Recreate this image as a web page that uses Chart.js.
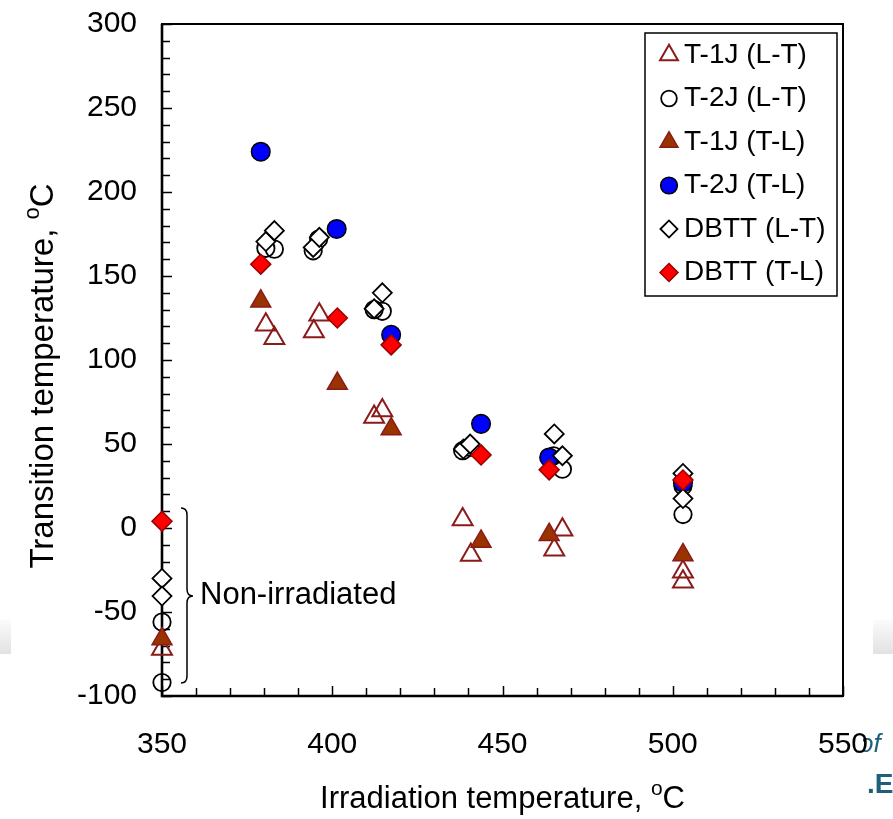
<!DOCTYPE html>
<html>
<head>
<meta charset="utf-8">
<script src="https://cdn.jsdelivr.net/npm/chart.js"></script>
<style>
  body { margin: 0; background: #fff; }
  #wrap { width: 893px; height: 819px; position: relative; }
</style>
</head>
<body>
<div id="wrap"><canvas id="myChart"></canvas></div>
<script>
// series
let labels = ['T-1J (L-T)', 'T-2J (L-T)', 'T-1J (T-L)', 'T-2J (T-L)', 'DBTT (L-T)', 'DBTT (T-L)'];

let t1jLT_x = [350, 380.5, 383, 394.6, 396.2, 412.3, 414.7, 438.3, 440.7, 465.2, 467.6, 503, 503];
let t1jLT_y = [-72, 121, 113, 117, 127, 66, 70, 5, -16, -13, -1, -26, -32];

let t2jLT_x = [350, 350, 380.5, 383, 394.4, 396, 412.3, 414.7, 438.3, 440.5, 465, 467.6, 503, 503];
let t2jLT_y = [-56, -92, 166.5, 166, 165, 172, 130, 129, 46, 48, 43, 35, 25, 8];

let t1jTL_x = [350, 379, 401.5, 417.3, 443.7, 463.7, 503];
let t1jTL_y = [-66, 135, 86, 59, -8, -4, -16];

let t2jTL_x = [379, 401.3, 417.3, 443.7, 463.7, 503];
let t2jTL_y = [224, 178, 115, 62, 42, 27];

let dbttLT_x = [350, 350, 380.5, 383, 394.4, 396.2, 412.3, 414.7, 438.5, 440.5, 465.2, 467.6, 503, 503];
let dbttLT_y = [-30, -40.5, 170.5, 177, 167, 173, 130.5, 140, 47, 50, 56, 43, 32.5, 17.5];

let dbttTL_x = [350, 379, 401.5, 417.3, 443.7, 463.7, 503];
let dbttTL_y = [4, 157, 125, 109, 43.5, 34.6, 28.6];

let xTicks = [350, 400, 450, 500, 550];
let yTicks = [-100, -50, 0, 50, 100, 150, 200, 250, 300];

const FONT = "'Liberation Sans', Arial, sans-serif";

function pts(xs, ys) {
  return xs.map((x, i) => ({ x: x, y: ys[i] }));
}

let styles = [
  { pointStyle: 'triangle', backgroundColor: 'rgba(0,0,0,0)', borderColor: '#8b1a1a', borderWidth: 2, radius: 11.5 },
  { pointStyle: 'circle', backgroundColor: 'rgba(0,0,0,0)', borderColor: '#000', borderWidth: 1.8, radius: 8.7 },
  { pointStyle: 'triangle', backgroundColor: '#993300', borderColor: '#8b1a1a', borderWidth: 1.5, radius: 11.5 },
  { pointStyle: 'circle', backgroundColor: '#0000ff', borderColor: '#000', borderWidth: 1.5, radius: 9.3 },
  { pointStyle: 'rectRot', backgroundColor: '#fff', borderColor: '#000', borderWidth: 1.8, radius: 9.5 },
  { pointStyle: 'rectRot', backgroundColor: '#ff0000', borderColor: '#990000', borderWidth: 1.5, radius: 10 }
];

let series = [
  pts(t1jLT_x, t1jLT_y), pts(t2jLT_x, t2jLT_y), pts(t1jTL_x, t1jTL_y),
  pts(t2jTL_x, t2jTL_y), pts(dbttLT_x, dbttLT_y), pts(dbttTL_x, dbttTL_y)
];

let datasets = series.map((d, i) => ({
  label: labels[i],
  data: d,
  pointStyle: styles[i].pointStyle,
  pointRadius: styles[i].radius,
  pointBackgroundColor: styles[i].backgroundColor,
  pointBorderColor: styles[i].borderColor,
  pointBorderWidth: styles[i].borderWidth,
  showLine: false,
  clip: false,
  order: labels.length - 1 - i   // later series on top, like the original
}));

function marker(ctx, st, x, y, scale) {
  ctx.save();
  ctx.fillStyle = st.backgroundColor;
  ctx.strokeStyle = st.borderColor;
  ctx.lineWidth = st.borderWidth;
  Chart.helpers.drawPoint(ctx, {
    pointStyle: st.pointStyle, rotation: 0,
    radius: st.radius * scale, borderWidth: st.borderWidth
  }, x, y);
  ctx.restore();
}

function titleWithDegree(ctx, text, cx, cy, size) {
  // text, then a raised small "o", then "C"
  let small = Math.round(size * 0.68);
  ctx.font = size + 'px ' + FONT;
  let w1 = ctx.measureText(text).width;
  let wC = ctx.measureText('C').width;
  ctx.font = small + 'px ' + FONT;
  let wo = ctx.measureText('o').width;
  let total = w1 + wo + wC;
  let x0 = cx - total / 2;
  ctx.textAlign = 'left';
  ctx.textBaseline = 'alphabetic';
  ctx.font = size + 'px ' + FONT;
  ctx.fillText(text, x0, cy);
  ctx.font = small + 'px ' + FONT;
  ctx.fillText('o', x0 + w1, cy - size * 0.42);
  ctx.font = size + 'px ' + FONT;
  ctx.fillText('C', x0 + w1 + wo, cy);
}

const frame = {
  id: 'frame',
  beforeDraw(chart) {
    const ctx = chart.ctx;
    ctx.save();
    // faint grey slide band at the edges
    let g = ctx.createLinearGradient(0, 620, 0, 654);
    g.addColorStop(0, '#fbfbfb');
    g.addColorStop(1, '#e2e2e2');
    ctx.fillStyle = g;
    ctx.fillRect(0, 620, 11, 34);
    ctx.fillRect(873, 620, 20, 34);
    // slide text peeking out at the right edge
    ctx.beginPath();
    ctx.rect(863, 700, 30, 119);
    ctx.clip();
    ctx.fillStyle = '#1f5f7a';
    ctx.font = 'italic 26px ' + FONT;
    ctx.textBaseline = 'middle';
    ctx.fillText('of', 859, 745);
    ctx.font = 'bold 28px ' + FONT;
    ctx.fillText('.E', 867, 785);
    ctx.restore();
  },
  beforeDatasetsDraw(chart) {
    const ctx = chart.ctx;
    const a = chart.chartArea;
    const xs = chart.scales.x, ys = chart.scales.y;
    ctx.save();
    ctx.strokeStyle = '#000';
    ctx.lineWidth = 1.5;
    ctx.beginPath();
    for (let v = -100; v <= 300; v += 10) {
      let p = Math.round(ys.getPixelForValue(v)) + 0.5;
      let len = v % 50 === 0 ? 10 : 8;
      ctx.moveTo(a.left, p);
      ctx.lineTo(a.left + len, p);
    }
    for (let v = 350; v <= 550; v += 10) {
      let p = Math.round(xs.getPixelForValue(v)) + 0.5;
      let len = v % 50 === 0 ? 10 : 8;
      ctx.moveTo(p, a.bottom);
      ctx.lineTo(p, a.bottom - len);
    }
    ctx.stroke();
    ctx.lineWidth = 2;
    ctx.strokeRect(a.left, a.top, a.right - a.left, a.bottom - a.top);
    ctx.lineWidth = 2.6;
    ctx.beginPath();
    ctx.moveTo(a.left, a.top);
    ctx.lineTo(a.left, a.bottom);
    ctx.lineTo(a.right, a.bottom);
    ctx.stroke();
    ctx.restore();
  },
  afterDraw(chart) {
    const ctx = chart.ctx;
    const a = chart.chartArea;
    ctx.save();
    ctx.fillStyle = '#000';
    ctx.strokeStyle = '#000';

    // axis titles
    titleWithDegree(ctx, 'Irradiation temperature, ', (a.left + a.right) / 2, 808, 31);
    ctx.save();
    ctx.translate(53, 376);
    ctx.rotate(-Math.PI / 2);
    titleWithDegree(ctx, 'Transition temperature, ', 0, 0, 33);
    ctx.restore();

    // brace and note for the non-irradiated points
    let top = 508, bot = 683, tip = 596;
    ctx.lineWidth = 1.5;
    ctx.beginPath();
    ctx.moveTo(181, top);
    ctx.quadraticCurveTo(187, top, 187, top + 7);
    ctx.lineTo(187, tip - 7);
    ctx.quadraticCurveTo(187, tip, 193, tip);
    ctx.quadraticCurveTo(187, tip, 187, tip + 7);
    ctx.lineTo(187, bot - 7);
    ctx.quadraticCurveTo(187, bot, 181, bot);
    ctx.stroke();
    ctx.font = '31px ' + FONT;
    ctx.textAlign = 'left';
    ctx.textBaseline = 'alphabetic';
    ctx.fillText('Non-irradiated', 200, 604);

    // legend box inside the plot
    let bx = 645, by = 33, bw = 192, bh = 263;
    ctx.fillStyle = '#fff';
    ctx.fillRect(bx, by, bw, bh);
    ctx.lineWidth = 1.5;
    ctx.strokeRect(bx, by, bw, bh);
    ctx.font = '28px ' + FONT;
    ctx.textBaseline = 'middle';
    labels.forEach((lab, i) => {
      let y = 54 + i * 43.5;
      let st = styles[i].backgroundColor === 'rgba(0,0,0,0)' ? Object.assign({}, styles[i], { backgroundColor: '#fff' }) : styles[i];
      marker(ctx, st, 669, y + 1, 0.9);
      ctx.fillStyle = '#000';
      ctx.fillText(lab, 684, y + 1);
    });
    ctx.restore();
  }
};

let ctx = document.getElementById('myChart').getContext('2d');
let myChart = new Chart(ctx, {
  type: 'scatter',
  data: { datasets: datasets },
  options: {
    responsive: true,
    maintainAspectRatio: false,
    animation: false,
    layout: { padding: { top: 24, right: 50, left: 0, bottom: 0 } },
    plugins: {
      legend: { display: false },
      tooltip: { enabled: false }
    },
    scales: {
      x: {
        type: 'linear', min: 350, max: 550,
        afterBuildTicks: (s) => { s.ticks = xTicks.map(v => ({ value: v })); },
        afterFit: (s) => { s.height = 123; s.paddingLeft = 0; s.paddingRight = 0; },
        grid: { display: false, drawTicks: false },
        border: { display: false },
        ticks: { color: '#000', font: { family: FONT, size: 30 }, padding: 31 }
      },
      y: {
        type: 'linear', min: -100, max: 300,
        afterBuildTicks: (s) => { s.ticks = yTicks.map(v => ({ value: v })); },
        afterFit: (s) => { s.width = 162; s.paddingTop = 0; s.paddingBottom = 0; },
        grid: { display: false, drawTicks: false },
        border: { display: false },
        ticks: { color: '#000', font: { family: FONT, size: 30 }, padding: 25 }
      }
    }
  },
  plugins: [frame]
});
</script>
</body>
</html>
